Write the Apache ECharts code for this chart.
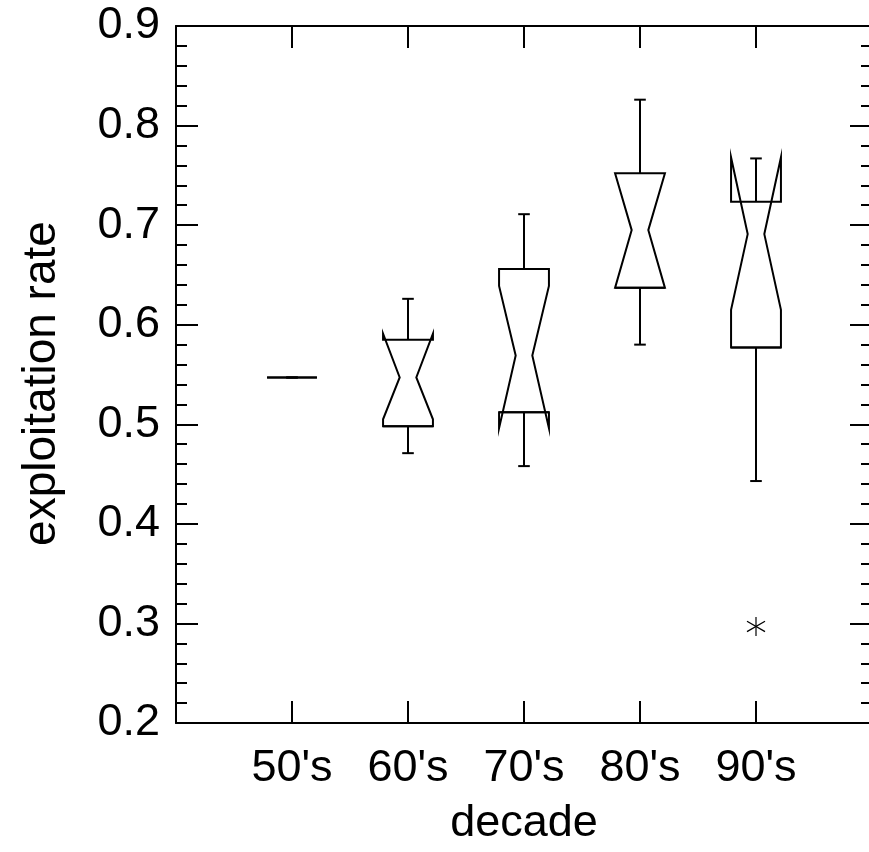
<!DOCTYPE html>
<html>
<head>
<meta charset="utf-8">
<script src="https://cdn.jsdelivr.net/npm/echarts@6/dist/echarts.min.js"></script>
<style>
html,body{margin:0;padding:0;background:#fff;}
#chart{width:869px;height:852px;}
</style>
</head>
<body>
<div id="chart"></div>
<script>
const categories = ["50's", "60's", "70's", "80's", "90's"];
const whiskerLow  = [0.547, 0.471, 0.458, 0.580, 0.443];
const q1          = [0.547, 0.498, 0.512, 0.637, 0.577];
const notchLow    = [0.547, 0.505, 0.496, 0.637, 0.615];
const median      = [0.547, 0.547, 0.569, 0.695, 0.691];
const notchHigh   = [0.547, 0.591, 0.639, 0.752, 0.768];
const q3          = [0.547, 0.585, 0.656, 0.752, 0.7235];
const whiskerHigh = [0.547, 0.626, 0.711, 0.826, 0.767];
const outlierCategory = ["90's"];
const outlierValue = [0.297];
const yTicks = [0.2, 0.3, 0.4, 0.5, 0.6, 0.7, 0.8, 0.9];

const FONT = 'Liberation Sans, Arial, sans-serif';
const boxData = categories.map((c, i) => [i + 1, whiskerLow[i], q1[i], notchLow[i], median[i], notchHigh[i], q3[i], whiskerHigh[i]]);
const outData = outlierCategory.map((c, i) => [categories.indexOf(c) + 1, outlierValue[i]]);

const HALF = 0.215, NOTCH = HALF / 3, CAP = 0.05;
const lineStyle = { stroke: '#000', lineWidth: 2, fill: 'none' };

function renderBox(params, api) {
  const x = api.value(0);
  const lo = api.value(1), a = api.value(2), nl = api.value(3), md = api.value(4), nh = api.value(5), b = api.value(6), hi = api.value(7);
  const p = (dx, v) => api.coord([x + dx, v]);
  const children = [];
  children.push({ type: 'polyline', shape: { points: [p(0, b), p(0, hi)] }, style: lineStyle });
  children.push({ type: 'polyline', shape: { points: [p(-CAP, hi), p(CAP, hi)] }, style: lineStyle });
  children.push({ type: 'polyline', shape: { points: [p(0, a), p(0, lo)] }, style: lineStyle });
  children.push({ type: 'polyline', shape: { points: [p(-CAP, lo), p(CAP, lo)] }, style: lineStyle });
  const pts = [
    p(-HALF, a), p(-HALF, nl), p(-NOTCH, md), p(-HALF, nh), p(-HALF, b),
    p(HALF, b), p(HALF, nh), p(NOTCH, md), p(HALF, nl), p(HALF, a)
  ];
  children.push({ type: 'polygon', shape: { points: pts }, style: lineStyle });
  children.push({ type: 'polyline', shape: { points: [p(-HALF, a), p(HALF, a)] }, style: lineStyle });
  return { type: 'group', children: children };
}

function renderOutlier(params, api) {
  const c = api.coord([api.value(0), api.value(1)]);
  const r = 9.5, dx = 9;
  const st = { stroke: '#000', lineWidth: 1.2, fill: 'none' };
  return {
    type: 'group',
    children: [
      { type: 'line', shape: { x1: c[0], y1: c[1] - r, x2: c[0], y2: c[1] + r }, style: st },
      { type: 'line', shape: { x1: c[0] - dx, y1: c[1] - r * 0.55, x2: c[0] + dx, y2: c[1] + r * 0.55 }, style: st },
      { type: 'line', shape: { x1: c[0] - dx, y1: c[1] + r * 0.55, x2: c[0] + dx, y2: c[1] - r * 0.55 }, style: st }
    ]
  };
}

const axisLine = { show: true, onZero: false, lineStyle: { color: '#000', width: 2 } };
const tickStyle = { color: '#000', width: 2 };

const chart = echarts.init(document.getElementById('chart'), null, { renderer: 'canvas' });
chart.setOption({
  animation: false,
  backgroundColor: '#fff',
  grid: { left: 176, right: -3, top: 26, bottom: 129, containLabel: false, outerBoundsMode: 'none' },
  xAxis: [
    {
      type: 'value', position: 'bottom', min: 0, max: 6, interval: 1,
      name: 'decade', nameLocation: 'middle', nameGap: 78,
      nameTextStyle: { fontFamily: FONT, fontSize: 45, color: '#000' },
      axisLine: axisLine,
      axisTick: { show: true, inside: true, length: 22, lineStyle: tickStyle },
      axisLabel: {
        show: true, margin: 23, fontFamily: FONT, fontSize: 45, color: '#000',
        formatter: v => (v >= 1 && v <= categories.length) ? categories[v - 1] : ''
      },
      splitLine: { show: false }
    },
    {
      type: 'value', position: 'top', min: 0, max: 6, interval: 1,
      axisLine: axisLine,
      axisTick: { show: true, inside: true, length: 22, lineStyle: tickStyle },
      axisLabel: { show: false },
      splitLine: { show: false }
    }
  ],
  yAxis: [
    {
      type: 'value', position: 'left', min: yTicks[0], max: yTicks[yTicks.length - 1], interval: 0.1,
      name: 'exploitation rate', nameLocation: 'middle', nameGap: 111,
      nameTextStyle: { fontFamily: FONT, fontSize: 46, color: '#000', padding: [0, 18, 0, 0] },
      axisLine: axisLine,
      axisTick: { show: true, inside: true, length: 22, lineStyle: tickStyle },
      minorTick: { show: true, splitNumber: 5, length: 11, lineStyle: tickStyle },
      axisLabel: {
        show: true, margin: 16, fontFamily: FONT, fontSize: 45, color: '#000',
        formatter: v => v.toFixed(1)
      },
      splitLine: { show: false }
    },
    {
      type: 'value', position: 'right', min: yTicks[0], max: yTicks[yTicks.length - 1], interval: 0.1,
      axisLine: axisLine,
      axisTick: { show: true, inside: true, length: 22, lineStyle: tickStyle },
      minorTick: { show: true, splitNumber: 5, length: 11, lineStyle: tickStyle },
      axisLabel: { show: false },
      splitLine: { show: false }
    }
  ],
  series: [
    {
      type: 'custom', xAxisIndex: 0, yAxisIndex: 0,
      renderItem: renderBox,
      encode: { x: 0, y: [1, 2, 3, 4, 5, 6, 7] },
      data: boxData, clip: false
    },
    {
      type: 'custom', xAxisIndex: 0, yAxisIndex: 0,
      renderItem: renderOutlier,
      encode: { x: 0, y: 1 },
      data: outData
    }
  ]
});
</script>
</body>
</html>
